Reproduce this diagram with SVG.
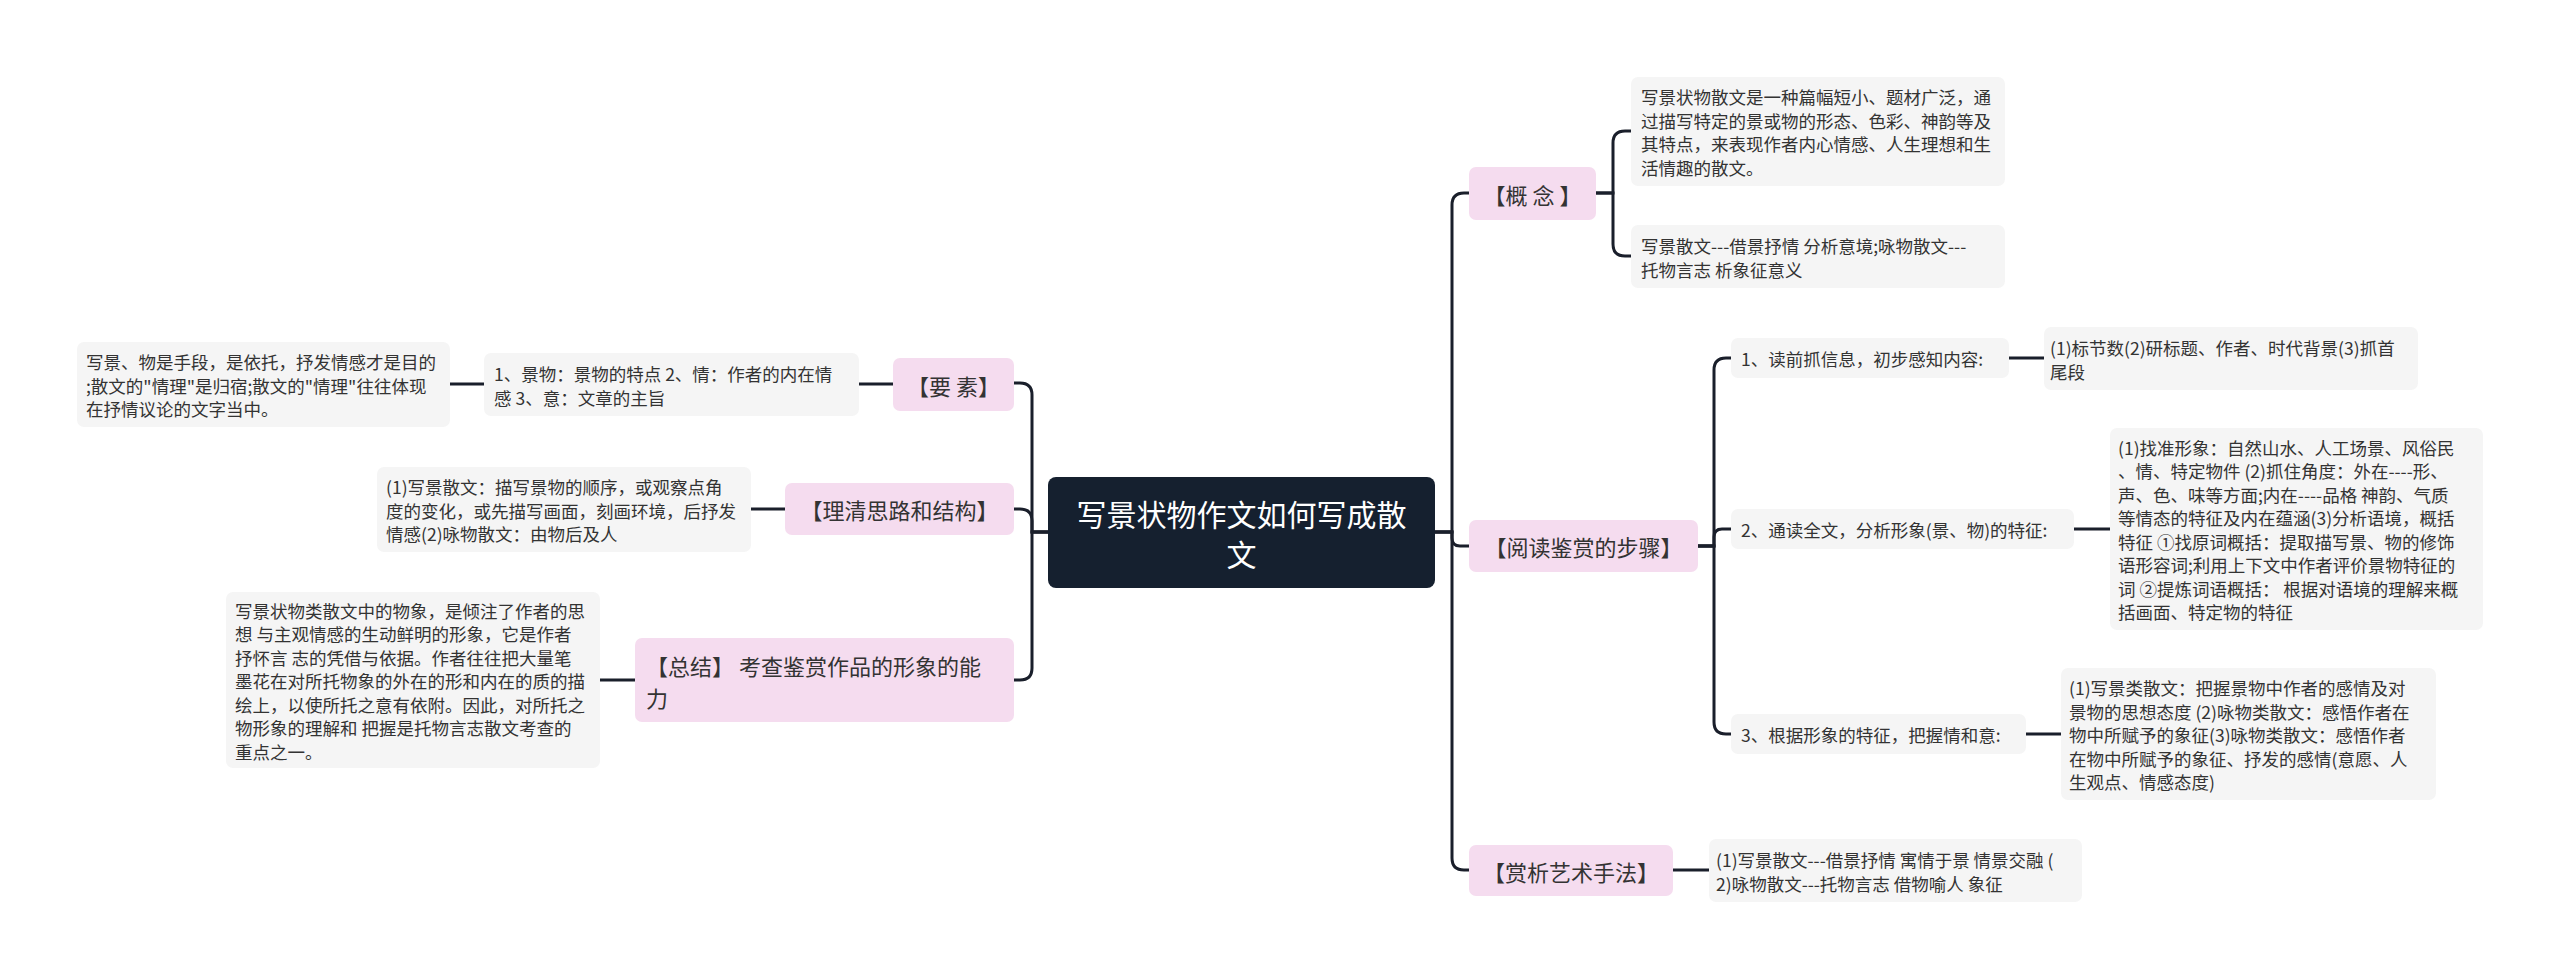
<svg xmlns="http://www.w3.org/2000/svg" width="2560" height="979" viewBox="0 0 2560 979">
<style>
text{font-family:"Noto Sans CJK SC","Noto Sans",sans-serif;fill:#333;dominant-baseline:central}
.root{fill:#15202f}
.rt{fill:#fff;font-size:30px;text-anchor:middle}
.l1{fill:#f5dcef}
.l1t{font-size:22px;text-anchor:middle}
.l1tl{font-size:22px}
.box{fill:#f5f5f5}
.bt{font-size:17.5px}
.conn{fill:none;stroke:#1a1f2b;stroke-width:3;stroke-linecap:round}
</style>
<rect width="2560" height="979" fill="#fff"/>
<g id="connectors" class="conn">
<path d="M1435,532 H1452 V205 Q1452,193 1464,193 H1469"/>
<path d="M1435,532 H1452 V538 Q1452,546 1460,546 H1469"/>
<path d="M1435,532 H1452 V858 Q1452,870 1464,870 H1469"/>
<path d="M1596,193 H1613 V143 Q1613,131 1625,131 H1631"/>
<path d="M1596,193 H1613 V244 Q1613,256 1625,256 H1631"/>
<path d="M1698,546 H1714 V370 Q1714,358 1726,358 H1731"/>
<path d="M1698,546 H1714 V537 Q1714,529 1722,529 H1731"/>
<path d="M1698,546 H1714 V722 Q1714,734 1726,734 H1731"/>
<path d="M2009,358 H2044"/>
<path d="M2074,529 H2110"/>
<path d="M2026,734 H2061"/>
<path d="M1673,870 H1709"/>
<path d="M1048,532 H1032 V395 Q1032,383 1020,383 H1014"/>
<path d="M1048,532 H1032 V521 Q1032,509 1020,509 H1014"/>
<path d="M1048,532 H1032 V668 Q1032,680 1020,680 H1014"/>
<path d="M893,384 H859"/>
<path d="M484,384 H450"/>
<path d="M785,509 H751"/>
<path d="M635,680 H600"/>
</g>
<g id="root">
<rect class="root" x="1048" y="477" width="387" height="111" rx="8"/>
<text class="rt" x="1241.5" y="513">写景状物作文如何写成散</text>
<text class="rt" x="1241.5" y="553">文</text>
</g>
<g id="n-gainian">
<rect class="l1" x="1469" y="167" width="127" height="53" rx="7"/>
<text class="l1t" x="1532.5" y="193.5">【概 念 】</text>
</g>
<g id="n-gainian-1">
<rect class="box" x="1631" y="77" width="374" height="109" rx="7"/>
<text class="bt" x="1641"><tspan x="1641" y="96">写景状物散文是一种篇幅短小、题材广泛，通</tspan><tspan x="1641" y="119.5">过描写特定的景或物的形态、色彩、神韵等及</tspan><tspan x="1641" y="143">其特点，来表现作者内心情感、人生理想和生</tspan><tspan x="1641" y="166.5">活情趣的散文。</tspan></text>
</g>
<g id="n-gainian-2">
<rect class="box" x="1631" y="225" width="374" height="63" rx="7"/>
<text class="bt"><tspan x="1641" y="245">写景散文---借景抒情 分析意境;咏物散文---</tspan><tspan x="1641" y="268.5">托物言志 析象征意义</tspan></text>
</g>
<g id="n-yuedu">
<rect class="l1" x="1469" y="520" width="229" height="52" rx="7"/>
<text class="l1t" x="1583.5" y="546">【阅读鉴赏的步骤】</text>
</g>
<g id="n-step1">
<rect class="box" x="1731" y="338" width="278" height="40" rx="7"/>
<text class="bt" x="1741" y="358">1、读前抓信息，初步感知内容:</text>
</g>
<g id="n-step1-c">
<rect class="box" x="2044" y="327" width="374" height="63" rx="7"/>
<text class="bt"><tspan x="2050" y="347">(1)标节数(2)研标题、作者、时代背景(3)抓首</tspan><tspan x="2050" y="370.5">尾段</tspan></text>
</g>
<g id="n-step2">
<rect class="box" x="1731" y="509" width="343" height="40" rx="7"/>
<text class="bt" x="1741" y="529">2、通读全文，分析形象(景、物)的特征:</text>
</g>
<g id="n-step2-c">
<rect class="box" x="2110" y="428" width="373" height="202" rx="7"/>
<text class="bt"><tspan x="2118" y="446.5">(1)找准形象：自然山水、人工场景、风俗民</tspan><tspan x="2118" y="470">、情、特定物件 (2)抓住角度：外在----形、</tspan><tspan x="2118" y="493.5">声、色、味等方面;内在----品格 神韵、气质</tspan><tspan x="2118" y="517">等情态的特征及内在蕴涵(3)分析语境，概括</tspan><tspan x="2118" y="540.5">特征 ①找原词概括：提取描写景、物的修饰</tspan><tspan x="2118" y="564">语形容词;利用上下文中作者评价景物特征的</tspan><tspan x="2118" y="587.5">词 ②提炼词语概括： 根据对语境的理解来概</tspan><tspan x="2118" y="611">括画面、特定物的特征</tspan></text>
</g>
<g id="n-step3">
<rect class="box" x="1731" y="714" width="295" height="40" rx="7"/>
<text class="bt" x="1741" y="734">3、根据形象的特征，把握情和意:</text>
</g>
<g id="n-step3-c">
<rect class="box" x="2061" y="668" width="375" height="132" rx="7"/>
<text class="bt"><tspan x="2069" y="687">(1)写景类散文：把握景物中作者的感情及对</tspan><tspan x="2069" y="710.5">景物的思想态度 (2)咏物类散文：感悟作者在</tspan><tspan x="2069" y="734">物中所赋予的象征(3)咏物类散文：感悟作者</tspan><tspan x="2069" y="757.5">在物中所赋予的象征、抒发的感情(意愿、人</tspan><tspan x="2069" y="781">生观点、情感态度)</tspan></text>
</g>
<g id="n-shangxi">
<rect class="l1" x="1469" y="845" width="204" height="51" rx="7"/>
<text class="l1t" x="1571" y="870.5">【赏析艺术手法】</text>
</g>
<g id="n-shangxi-c">
<rect class="box" x="1709" y="839" width="373" height="63" rx="7"/>
<text class="bt"><tspan x="1716" y="859">(1)写景散文---借景抒情 寓情于景 情景交融 (</tspan><tspan x="1716" y="882.5">2)咏物散文---托物言志 借物喻人 象征</tspan></text>
</g>
<g id="n-yaosu">
<rect class="l1" x="893" y="358" width="121" height="53" rx="7"/>
<text class="l1t" x="953.5" y="384.5">【要 素】</text>
</g>
<g id="n-yaosu-c">
<rect class="box" x="484" y="353" width="375" height="63" rx="7"/>
<text class="bt"><tspan x="494" y="373">1、景物：景物的特点 2、情：作者的内在情</tspan><tspan x="494" y="396.5">感 3、意：文章的主旨</tspan></text>
</g>
<g id="n-yaosu-gc">
<rect class="box" x="77" y="342" width="373" height="85" rx="7"/>
<text class="bt"><tspan x="86" y="361">写景、物是手段，是依托，抒发情感才是目的</tspan><tspan x="86" y="384.5">;散文的"情理"是归宿;散文的"情理"往往体现</tspan><tspan x="86" y="408">在抒情议论的文字当中。</tspan></text>
</g>
<g id="n-liqing">
<rect class="l1" x="785" y="483" width="229" height="52" rx="7"/>
<text class="l1t" x="899.5" y="509">【理清思路和结构】</text>
</g>
<g id="n-liqing-c">
<rect class="box" x="377" y="467" width="374" height="85" rx="7"/>
<text class="bt"><tspan x="386" y="486">(1)写景散文：描写景物的顺序，或观察点角</tspan><tspan x="386" y="509.5">度的变化，或先描写画面，刻画环境，后抒发</tspan><tspan x="386" y="533">情感(2)咏物散文：由物后及人</tspan></text>
</g>
<g id="n-zongjie">
<rect class="l1" x="635" y="638" width="379" height="84" rx="7"/>
<text class="l1tl"><tspan x="646" y="665">【总结】 考查鉴赏作品的形象的能</tspan><tspan x="646" y="697">力</tspan></text>
</g>
<g id="n-zongjie-c">
<rect class="box" x="226" y="592" width="374" height="176" rx="7"/>
<text class="bt"><tspan x="235" y="609.5">写景状物类散文中的物象，是倾注了作者的思</tspan><tspan x="235" y="633">想 与主观情感的生动鲜明的形象，它是作者</tspan><tspan x="235" y="656.5">抒怀言 志的凭借与依据。作者往往把大量笔</tspan><tspan x="235" y="680">墨花在对所托物象的外在的形和内在的质的描</tspan><tspan x="235" y="703.5">绘上，以使所托之意有依附。因此，对所托之</tspan><tspan x="235" y="727">物形象的理解和 把握是托物言志散文考查的</tspan><tspan x="235" y="750.5">重点之一。</tspan></text>
</g>
</svg>
